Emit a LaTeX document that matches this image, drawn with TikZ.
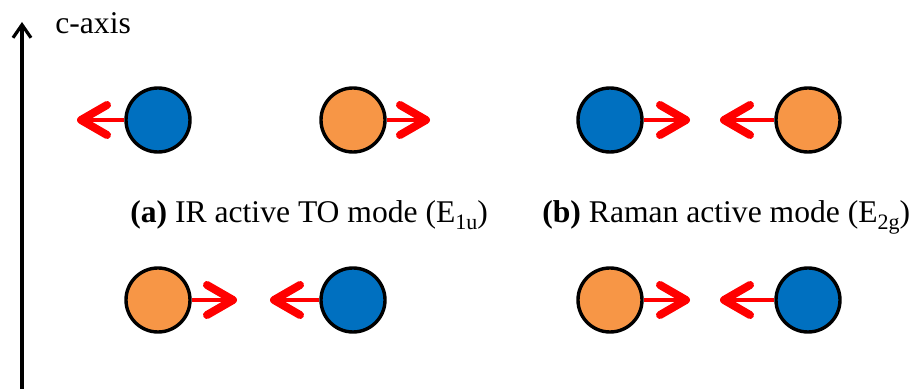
\documentclass[tikz,border=0pt]{standalone}
\usepackage{fontspec}
\setmainfont{Liberation Serif}
\usetikzlibrary{arrows.meta}
\begin{document}
\begin{tikzpicture}[x=0.5pt, y=-0.5pt,
  atom/.style={circle, draw=black, line width=1.7pt, minimum size=32pt, inner sep=0pt},
  blueatom/.style={atom, fill=atomBlue},
  orangeatom/.style={atom, fill=atomOrange},
  displace/.style={draw=red, line width=2.2pt,
    -{Straight Barb[length=13pt, width=15pt, line width=4pt, round]}},
  caption/.style={anchor=base west, inner sep=0pt, font=\fontsize{15.8}{19}\selectfont}]
% colours of the two atom species
\definecolor{atomBlue}{RGB}{0,112,192}
\definecolor{atomOrange}{RGB}{247,150,70}
\useasboundingbox (0,0) rectangle (916,389);
% c-axis
\coordinate (axisbot) at (22,389);
\coordinate (axistop) at (22,22);
\draw[line width=1.6pt, -{Straight Barb[length=6.5pt, width=9pt, line width=1.6pt]}] (axisbot) -- (axistop);
\node[caption] (axislbl) at (55,34) {c-axis};
% (a) IR active TO mode
\begin{scope}
  \node[blueatom] (a1) at (158,120) {};
  \node[orangeatom] (a2) at (353,120) {};
  \node[orangeatom] (a3) at (158,300) {};
  \node[blueatom] (a4) at (353,300) {};
  \coordinate (ta1) at (77,120);
  \coordinate (ta2) at (430,120);
  \coordinate (ta3) at (237,300);
  \coordinate (ta4) at (270,300);
  \draw[displace] (a1.west) -- (ta1);
  \draw[displace] (a2.east) -- (ta2);
  \draw[displace] (a3.east) -- (ta3);
  \draw[displace] (a4.west) -- (ta4);
\end{scope}
% (b) Raman active mode
\begin{scope}
  \node[blueatom] (b1) at (610,120) {};
  \node[orangeatom] (b2) at (808,120) {};
  \node[orangeatom] (b3) at (610,300) {};
  \node[blueatom] (b4) at (808,300) {};
  \coordinate (tb1) at (690,120);
  \coordinate (tb2) at (720,120);
  \coordinate (tb3) at (690,300);
  \coordinate (tb4) at (720,300);
  \draw[displace] (b1.east) -- (tb1);
  \draw[displace] (b2.west) -- (tb2);
  \draw[displace] (b3.east) -- (tb3);
  \draw[displace] (b4.west) -- (tb4);
\end{scope}
% captions
\node[caption] (capa) at (130,223) {\textbf{(a)} IR active TO mode (E\raisebox{-0.45ex}{\fontsize{11}{12}\selectfont 1u})};
\node[caption] (capb) at (542,223) {\textbf{(b)} Raman active mode (E\raisebox{-0.45ex}{\fontsize{11}{12}\selectfont 2g})};
\end{tikzpicture}
\end{document}
